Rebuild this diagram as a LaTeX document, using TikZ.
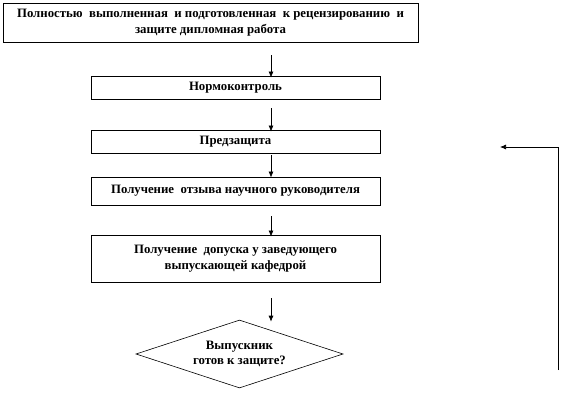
\documentclass[tikz,border=0pt]{standalone}
\usepackage{fontspec}
\setmainfont{Liberation Serif}
\usetikzlibrary{arrows.meta,shapes.geometric,calc}
\begin{document}
\begin{tikzpicture}[x=1pt,y=-1pt,
  box/.style={draw,line width=0.8pt,inner sep=0pt,align=center,font=\fontsize{12.8}{15.5}\selectfont\bfseries},
  dec/.style={draw,line width=0.6pt,diamond,aspect=3,inner sep=0pt,align=center,font=\fontsize{12.8}{15.5}\selectfont\bfseries},
  arr/.style={line width=0.7pt,-{Latex[length=6pt,width=5pt]}}]
\useasboundingbox (0,0) rectangle (562,415);
\node[box,minimum width=415pt,minimum height=39pt] (b1) at (210.5,22.5)
  {Полностью\ \ выполненная\ \ и подготовленная\ \ к рецензированию\ \ и\\ защите дипломная работа};
\node[box,minimum width=289pt,minimum height=23pt] (b2) at (235.5,87.5) {Нормоконтроль};
\node[box,minimum width=289pt,minimum height=23pt] (b3) at (235.5,141.5) {Предзащита};
\node[box,minimum width=289pt,minimum height=28pt] (b4) at (235.5,191) {Получение\ \ отзыва научного руководителя};
\node[box,minimum width=289pt,minimum height=47pt] (b5) at (235.5,258.5) {Получение\ \ допуска у заведующего\\ выпускающей кафедрой};
\node[dec,minimum width=207pt,minimum height=68pt] (d) at (239.5,354) {Выпускник\\ готов к защите?};
\coordinate (ax) at (271,0);
\draw[arr] ([yshift=-13pt]b1.south -| ax) -- ([yshift=-2pt]b2.north -| ax);
\draw[arr] ([yshift=-9pt]b2.south -| ax) -- ([yshift=-2pt]b3.north -| ax);
\draw[arr] ([yshift=-2pt]b3.south -| ax) -- ([yshift=-1pt]b4.north -| ax);
\draw[arr] ([yshift=-11pt]b4.south -| ax) -- ([yshift=-2pt]b5.north -| ax);
\draw[arr] ([yshift=-16pt]b5.south -| ax) -- ([yshift=-2pt]d.north -| ax);
\coordinate (fbs) at (558,370);
\coordinate (fbe) at (500,147);
\draw[arr] (fbs) |- (fbe);
\end{tikzpicture}
\end{document}
